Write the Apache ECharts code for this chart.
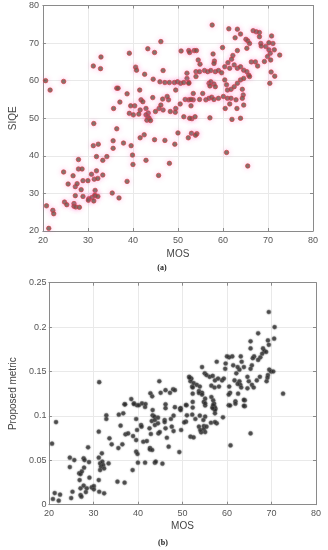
<!DOCTYPE html>
<html>
<head>
<meta charset="utf-8">
<script src="https://cdn.jsdelivr.net/npm/echarts@6/dist/echarts.min.js"></script>
<style>html,body{margin:0;padding:0;background:#fff}#c{width:328px;height:550px}</style>
</head>
<body>
<div id="c"></div>
<script>
// ---- DATA ----
const mosTicks = [20, 30, 40, 50, 60, 70, 80];
const siqeTicks = [20, 30, 40, 50, 60, 70, 80];
const metricTicks = [0, 0.05, 0.1, 0.15, 0.2, 0.25];

// (a) SIQE vs MOS  [MOS, SIQE]
const siqeVsMos = [
[57.6,74.8],[61.3,73.8],[63.2,73.7],[63.9,72.4],[62.7,71.4],[66.7,73.3],[67.4,73.0],[68.1,72.8],[70.8,71.9],
[46.2,70.4],[43.3,68.5],[44.8,67.5],[39.2,67.3],[50.7,67.9],[52.4,68.0],[52.6,67.5],[53.6,68.0],[54.1,68.0],[59.9,68.8],[57.8,67.1],
[32.9,66.3],[31.2,63.9],[32.8,63.2],[40.6,63.6],[40.8,62.8],[46.7,62.7],[42.6,61.7],[44.5,60.4],
[54.5,65.5],[54.9,64.4],[58.1,65.2],[58.0,64.6],[62.2,66.7],[61.9,65.7],[61.1,64.8],[63.2,68.0],
[65.1,71.0],[65.5,70.6],[65.9,69.9],[65.3,68.6],[68.1,71.7],[68.4,69.9],[68.5,69.2],[69.5,69.1],[70.2,68.2],[70.5,67.3],[69.9,66.4],[69.2,65.1],[70.6,65.5],[71.4,68.2],[71.1,69.9],[70.2,70.1],
[72.6,66.8],[70.7,62.3],[71.5,61.2],[70.4,59.3],
[60.4,63.7],[61.5,63.3],[62.5,64.2],[63.2,63.3],[63.9,63.7],[64.6,62.8],[65.3,62.4],[65.7,61.5],[65.9,61.1],
[66.3,65.0],[67.2,65.0],[67.7,63.9],
[54.0,62.4],[54.8,62.4],[55.9,62.7],[56.6,62.4],[57.3,62.7],[58.3,62.4],[59.0,62.7],[59.7,62.1],
[54.0,61.1],[52.0,62.0],[52.0,60.6],[52.4,59.5],
[46.0,59.7],[47.1,59.5],[48.1,59.5],[49.2,59.5],[49.9,59.7],[50.6,59.3],[51.3,59.5],[52.4,59.3],
[49.5,57.5],
[56.9,59.3],[57.3,59.7],[58.0,59.1],[58.3,58.4],[57.1,58.6],
[60.4,60.2],[60.8,58.9],[61.0,57.5],[61.8,57.7],[62.5,58.4],[63.2,59.3],[63.9,60.2],[64.6,60.6],[64.3,57.7],[64.5,56.2],
[53.4,56.6],[55.5,56.6],[53.4,54.9],[54.8,55.0],[56.2,54.9],[56.9,55.3],[57.5,55.6],[58.0,55.0],[59.0,55.3],[60.1,55.8],[61.0,55.3],[61.8,55.3],[62.9,54.9],[64.3,55.3],
[51.6,55.0],[52.4,54.9],[52.9,55.0],
[50.5,53.8],[49.5,52.6],[52.9,53.3],
[60.5,52.6],[63.1,52.6],[61.5,53.8],[64.6,53.5],
[62.0,49.7],[63.9,50.0],
[57.1,50.1],[53.1,49.9],[53.8,50.4],[51.3,50.4],[52.6,50.0],
[49.4,51.6],[48.3,51.8],[46.7,52.2],[45.8,52.6],[46.2,53.5],[47.9,54.9],[47.6,55.8],[46.6,55.1],[44.4,55.5],
[42.9,52.6],[43.4,51.4],[42.9,50.9],[43.3,50.4],[43.6,50.0],[43.1,49.5],[43.9,49.4],
[45.0,51.8],
[41.5,57.5],[41.8,54.9],[42.2,54.4],[41.6,52.2],[40.4,53.3],[39.5,53.3],[39.2,51.3],[40.1,50.9],[41.3,51.1],
[36.4,58.0],[36.7,58.0],[37.1,54.3],[35.7,52.6],[38.7,56.5],[31.3,48.6],[36.4,47.2],
[20.6,60.0],[24.6,59.8],[21.6,57.5],
[50.0,46.1],[53.0,46.0],[54.2,45.9],[53.9,45.5],[52.3,44.8],[47.1,44.1],[44.8,44.3],[49.3,43.1],[42.5,45.6],[41.6,44.8],
[39.6,42.7],[39.9,40.2],[40.0,37.7],[42.9,38.8],[48.1,38.0],[45.7,34.8],
[35.6,44.0],[35.6,42.0],[37.9,43.4],[31.2,42.7],[32.3,43.1],[31.9,39.8],[34.2,39.8],[33.3,38.8],
[27.9,39.0],[27.9,36.5],[28.7,36.5],[24.6,35.7],[26.7,34.7],[30.8,35.1],[31.9,36.0],[33.3,34.9],[31.4,33.8],[32.2,34.0],
[25.6,32.5],[27.2,31.8],[27.6,32.6],[28.9,33.4],[30.0,33.4],[28.5,31.0],[27.2,29.4],[31.6,30.8],[31.5,29.5],
[28.9,29.2],[30.2,28.6],[30.1,28.2],[30.9,28.9],[31.6,29.4],[32.2,29.2],[31.3,28.0],
[24.8,27.7],[25.3,27.0],[26.9,27.3],[26.9,26.6],[27.3,26.4],[28.1,26.3],
[20.8,26.7],[22.2,25.5],[22.4,24.6],[21.3,20.7],
[35.4,30.1],[36.9,28.8],[38.7,33.2],[60.8,40.9],[65.5,37.3]
];

// (b) Proposed metric vs MOS  [MOS, metric]
const metricVsMos = [
[31.3,0.138],[69.4,0.217],[70.7,0.200],[70.6,0.187],[67.0,0.193],[65.3,0.184],[65.3,0.176],[69.2,0.185],[69.4,0.180],
[68.1,0.176],[68.4,0.173],[67.9,0.170],[68.8,0.172],
[67.5,0.166],[67.0,0.163],[66.1,0.167],[65.8,0.165],[65.6,0.157],[65.3,0.153],
[63.1,0.167],[63.3,0.161],[62.8,0.152],[63.8,0.155],[62.4,0.155],[62.1,0.148],[61.4,0.157],[61.2,0.167],[60.5,0.166],[60.0,0.167],[59.7,0.159],[59.6,0.153],
[57.7,0.161],[54.4,0.155],[56.1,0.144],[55.0,0.148],[55.4,0.146],[56.8,0.145],[57.3,0.140],[58.0,0.142],[58.9,0.140],[59.3,0.142],
[51.5,0.144],[52.0,0.142],[51.8,0.139],[52.5,0.137],[52.2,0.133],[53.2,0.135],[53.9,0.133],
[47.9,0.130],[48.3,0.129],[47.2,0.126],[46.2,0.129],[44.8,0.139],[45.1,0.126],
[42.8,0.1255],[43.2,0.122],
[38.5,0.119],[37.0,0.113],[39.1,0.114],[39.8,0.112],[40.9,0.114],[41.6,0.110],
[69.5,0.152],[69.9,0.150],[70.4,0.150],[69.2,0.146],[68.9,0.139],[72.6,0.125],
[67.4,0.144],[66.7,0.140],[64.6,0.144],[64.9,0.139],[64.6,0.131],[62.8,0.139],[63.0,0.135],[65.6,0.135],
[51.6,0.143],[52.3,0.132],[53.7,0.128],[54.4,0.126],[56.5,0.134],[57.2,0.132],[58.2,0.133],[60.5,0.133],[60.7,0.126],[61.7,0.140],[62.4,0.136],[63.2,0.132],[66.0,0.132],[69.1,0.143],
[52.3,0.125],[53.7,0.1258],[54.4,0.124],[55.1,0.1194],[54.8,0.1157],[56.5,0.1213],[56.9,0.1176],[57.1,0.1138],[57.2,0.110],[57.4,0.1081],[52.3,0.1157],[50.9,0.112],[49.5,0.108],
[60.4,0.124],[62.5,0.125],[64.0,0.1176],[64.0,0.111],[61.9,0.1164],[60.4,0.112],
[21.6,0.093],[20.7,0.0687],[20.9,0.0064],[21.3,0.0131],[22.5,0.0113],[22.2,0.0045],
[24.7,0.0529],[24.7,0.0424],[25.7,0.0503],[25.3,0.0146],[25.0,0.0075],
[28.8,0.0646],[27.8,0.0522],[28.0,0.0503],[27.9,0.0417],[29.0,0.048],
[26.8,0.0353],[27.1,0.0345],[27.4,0.0375],[26.9,0.0277],[27.8,0.0214],[27.1,0.0184],[27.1,0.0109],[27.3,0.009],[28.5,0.0184],[28.3,0.0142],[29.6,0.0195],[30.1,0.021],[30.1,0.0173],[29.1,0.0304],
[31.2,0.0822],[31.9,0.0578],
[31.2,0.0529],[31.5,0.0465],[31.7,0.0428],[32.0,0.0484],[32.2,0.0447],[32.4,0.0409],[31.5,0.039],[32.4,0.0128],[31.3,0.0146],[31.2,0.0277],
[32.9,0.1006],[32.9,0.0965],[33.6,0.0747],[34.1,0.068],[33.4,0.0465],
[35.7,0.1014],[36.7,0.1029],[36.1,0.089],[37.2,0.0792],[35.6,0.0638],[36.5,0.068],
[35.4,0.0259],[37.0,0.0248],[37.8,0.0803],[38.9,0.0773],[38.8,0.039],
[37.1,0.113],[39.1,0.1134],
[39.6,0.0965],[39.8,0.0841],[39.6,0.0728],[39.6,0.0597],[39.9,0.0571],[40.0,0.0473],[40.2,0.112],
[40.7,0.0897],[40.8,0.0879],[41.2,0.0709],[41.6,0.0473],[42.0,0.0717],[41.7,0.1134],
[42.6,0.086],[42.9,0.0796],[43.1,0.0942],[42.7,0.0638],[42.7,0.0623],[43.2,0.0616],
[43.3,0.1066],[43.3,0.1006],[43.7,0.0991],[43.8,0.0954],[43.8,0.0897],[43.8,0.0473],[44.0,0.0484],
[44.6,0.0803],[44.5,0.0916],[44.9,0.0818],[44.5,0.098],[45.5,0.0462],
[46.2,0.113],[46.2,0.1087],[46.0,0.0954],[46.0,0.0931],[46.2,0.086],[46.5,0.0754],[46.9,0.0653],[47.4,0.0965],[47.6,0.0879],[48.0,0.0829],[48.3,0.1098],[48.0,0.1003],
[49.3,0.0593],[49.6,0.1087],[49.6,0.1066],[49.7,0.0841],
[50.8,0.1123],[51.0,0.1006],[50.8,0.0935],[50.4,0.0927],
[51.8,0.0766],[52.2,0.1014],[52.3,0.1094],[52.5,0.0758],[52.9,0.0965],
[53.9,0.1003],[54.2,0.0815],[53.7,0.0879],[54.0,0.0841],[54.7,0.0954],[55.1,0.0991],[54.8,0.0886],[54.8,0.0852],[55.1,0.0818],[55.4,0.0879],[55.1,0.1117],[55.1,0.1141],
[56.4,0.0923],[57.7,0.0916],[57.3,0.0931],
[56.8,0.1098],[57.1,0.1094],[56.9,0.1123],[57.3,0.1066],[57.3,0.1029],[56.8,0.1087],
[59.1,0.0984],[60.7,0.1117],[60.8,0.0668],[61.9,0.1138],[63.8,0.118],[63.8,0.1113],
[65.3,0.0803]
];

// ---- CHART ----
const chart = echarts.init(document.getElementById('c'), null, {renderer: 'canvas'});
const FONT = '"Liberation Sans", Arial, Helvetica, sans-serif';
const axisColor = '#8a8a8a';
const labelColor = '#555';

function mainX(gi, tickVals, margin, nameGap) {
  return {
    gridIndex: gi, type: 'value', min: tickVals[0], max: tickVals[tickVals.length - 1],
    interval: tickVals[1] - tickVals[0],
    name: 'MOS', nameLocation: 'middle', nameGap: nameGap,
    nameTextStyle: {fontFamily: FONT, fontSize: 10, color: '#444'},
    axisLine: {show: true, onZero: false, lineStyle: {color: axisColor, width: 1}},
    axisTick: {show: true, inside: true, length: 3, lineStyle: {color: axisColor}},
    axisLabel: {fontFamily: FONT, fontSize: 9, color: labelColor, margin: margin, showMinLabel: true, showMaxLabel: true},
    splitLine: {show: true, lineStyle: {color: '#e9e9e9', width: 1}}
  };
}
function topX(gi, tickVals) {
  return {
    gridIndex: gi, type: 'value', position: 'top', min: tickVals[0], max: tickVals[tickVals.length - 1],
    interval: tickVals[1] - tickVals[0],
    axisLine: {show: true, onZero: false, lineStyle: {color: axisColor}},
    axisTick: {show: true, inside: true, length: 3, lineStyle: {color: axisColor}},
    axisLabel: {show: false}, splitLine: {show: false}
  };
}
function mainY(gi, tickVals, name, nameGap, margin) {
  return {
    gridIndex: gi, type: 'value', min: tickVals[0], max: tickVals[tickVals.length - 1],
    interval: tickVals[1] - tickVals[0],
    name: name, nameLocation: 'middle', nameGap: nameGap, nameRotate: 90,
    nameTextStyle: {fontFamily: FONT, fontSize: 10, color: '#444'},
    axisLine: {show: true, onZero: false, lineStyle: {color: axisColor, width: 1}},
    axisTick: {show: true, inside: true, length: 3, lineStyle: {color: axisColor}},
    axisLabel: {fontFamily: FONT, fontSize: 9, color: labelColor, margin: margin, showMinLabel: true, showMaxLabel: true},
    splitLine: {show: true, lineStyle: {color: '#e9e9e9', width: 1}}
  };
}
function rightY(gi, tickVals) {
  return {
    gridIndex: gi, type: 'value', position: 'right', min: tickVals[0], max: tickVals[tickVals.length - 1],
    interval: tickVals[1] - tickVals[0],
    axisLine: {show: true, onZero: false, lineStyle: {color: axisColor}},
    axisTick: {show: true, inside: true, length: 3, lineStyle: {color: axisColor}},
    axisLabel: {show: false}, splitLine: {show: false}
  };
}

chart.setOption({
  animation: false,
  backgroundColor: '#fff',
  grid: [
    {left: 28, top: 5.5, width: 285, height: 225.5, containLabel: false},
    {left: 33.3, top: 282.7, width: 282.7, height: 222, containLabel: false}
  ],
  xAxis: [
    mainX(0, mosTicks, 5, 18),
    mainX(1, mosTicks, 4.5, 17),
    topX(0, mosTicks),
    topX(1, mosTicks)
  ],
  yAxis: [
    mainY(0, siqeTicks, 'SIQE', 16, 4),
    mainY(1, metricTicks, 'Proposed metric', 21.5, 2.5),
    rightY(0, siqeTicks),
    rightY(1, metricTicks)
  ],
  series: [
    {
      type: 'scatter', xAxisIndex: 0, yAxisIndex: 0, data: siqeVsMos,
      symbol: 'circle', symbolSize: 4.5,
      itemStyle: {color: '#5f5240', borderColor: '#d6343c', borderWidth: 0.8,
        shadowBlur: 5, shadowColor: 'rgba(255,120,200,0.55)'}
    },
    {
      type: 'scatter', xAxisIndex: 1, yAxisIndex: 1, data: metricVsMos,
      symbol: 'circle', symbolSize: 4.2,
      itemStyle: {color: '#2f2f2f', borderColor: '#777', borderWidth: 0.5,
        shadowBlur: 2, shadowColor: 'rgba(0,0,0,0.3)'}
    }
  ],
  graphic: [
    {type: 'text', x: 162, y: 268, style: {text: '(a)', textAlign: 'center', textVerticalAlign: 'middle',
      font: 'bold 8px "Liberation Serif", "Times New Roman", serif', fill: '#222'}},
    {type: 'text', x: 163, y: 543, style: {text: '(b)', textAlign: 'center', textVerticalAlign: 'middle',
      font: 'bold 8px "Liberation Serif", "Times New Roman", serif', fill: '#222'}}
  ]
});
</script>
</body>
</html>
